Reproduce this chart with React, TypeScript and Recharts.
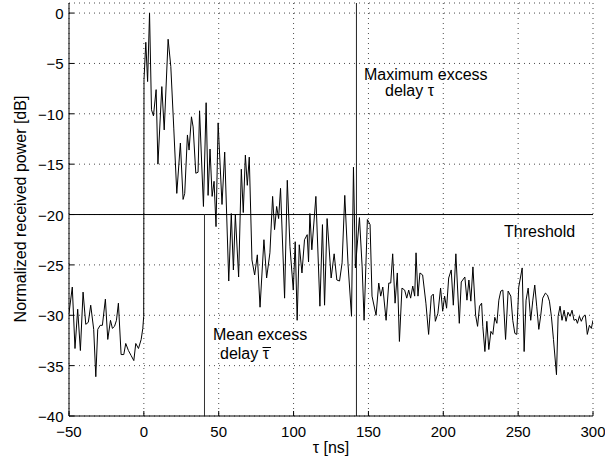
import React from 'react';
import { LineChart, Line, XAxis, YAxis, CartesianGrid, ReferenceLine } from 'recharts';

const delays = [
  -50, -47.8, -46, -44.2, -42.4, -40.6, -38.8, -37.1, -35.5, -33.5, -32.1, -30.8, -29.2, -27.7, -25.7, -24.1,
  -22.3, -21, -19.6, -18.3, -17, -15.2, -13.4, -12.1, -10.3, -8.5, -6.7, -5.4, -3.6, -1.8, -0.7, -0.1,
  0.1, 1.3, 2.5, 3.8, 5.1, 6.4, 8.2, 9.4, 12, 13.6, 16.2, 18, 20, 22, 24.4, 26.2, 27.3, 29.1, 30.2, 31.8,
  32.9, 34.7, 36.2, 37.2,
  39.8, 41.6, 42.9, 44.2, 45.6, 46.9, 48.2, 49.6, 52.2, 54, 56.7, 58.4, 59.8, 61.1, 63.3, 65.1, 66.4, 67.8,
  69.1, 70.4, 72.2, 74, 75.8, 77.6, 80.2, 82, 84.2, 86, 87.3, 88.7, 90, 91.3, 94, 95.8, 97.6, 99.8, 101.1,
  102.4, 103.8, 105.6, 107.3, 109.1, 110, 110.9, 112.2, 114.9, 117.6, 119.3, 120.7, 122.4,
  125.1, 127.1, 128.9, 130.7, 132.4, 134.2, 136.4, 138.7, 140, 141.3, 144, 145.8, 147.1, 149.3, 151.1,
  152.4, 155.1, 156.9, 158.2, 159.6, 161.8, 163.6, 164.9, 166.2, 167.8, 169.3, 170.7, 172.4, 174.2, 175.6,
  176.9, 178.2, 179.6, 180.9, 181.8, 183.1, 184.4, 186.2, 188.4, 190.2, 192, 193.3, 194.7, 196.4, 198.2,
  199.6, 200.9, 202.2, 203.6, 205.3, 206.7, 208.4, 210.7, 212,
  214.4, 215.8, 217.1, 218.4, 219.8, 221.6, 222.9, 224.2, 225.6, 226.4, 227.8, 229.1, 230.4, 231.8, 233.1,
  234.4, 235.8, 237.1, 238.4, 239.8, 241.6, 243.3, 245.1, 246.4, 247.8, 249.1, 250.4, 252.7, 254, 255.3,
  256.7, 258.4, 259.8, 261.1, 262.4, 263.8, 265.1, 266.4, 268.2, 269.6, 270.9, 272.2, 273.6, 275.6, 276.7,
  278, 279.3, 280.7, 282, 283.3, 284.7, 286, 287.3, 288.7, 289.6, 290.9, 292.2, 293.6, 294.9, 296.2, 297.6,
  298.9, 300,
];

const powers = [
  -29.8, -27.2, -33.3, -29.4, -33.5, -27.7, -30.9, -30.7, -29.0, -31.4, -36.1, -31.4, -31.0, -31.0, -28.4, -32.4,
  -30.5, -31.3, -31.1, -30.5, -28.8, -33.9, -33.9, -32.8, -33.5, -34.0, -34.5, -32.8, -33.3, -32.4, -31.3, -30.1,
  -6.6, -2.9, -6.8, 0.0, -9.6, -10.2, -7.6, -15.0, -7.3, -11.6, -2.6, -5.3, -11.5, -17.9, -12.9, -18.5, -17.9, -12.1, -13.6, -10.3,
  -11.3, -15.9, -15.8, -9.7,
  -19.2, -8.9, -18.1, -13.5, -18.2, -16.7, -21.2, -10.9, -19.0, -13.8, -26.6, -19.9, -25.5, -20.0, -26.2, -15.5, -19.8, -14.1,
  -17.1, -14.3, -24.5, -26.0, -24.0, -29.2, -22.5, -26.3, -23.8, -18.2, -21.5, -19.2, -20.4, -17.4, -28.3, -16.6, -23.2, -27.5, -22.7,
  -30.5, -23.0, -25.8, -22.5, -22.0, -24.7, -19.9, -23.5, -18.2, -29.1, -21.0, -29.0, -20.4,
  -26.3, -23.9, -26.5, -26.6, -24.8, -18.1, -25.0, -30.1, -15.3, -25.3, -20.3, -25.2, -30.5, -20.5, -21.0,
  -28.1, -30.0, -26.8, -28.1, -27.2, -30.5, -26.8, -26.8, -23.9, -28.8, -25.8, -32.6, -27.3, -27.5, -28.3,
  -27.5, -28.3, -27.1, -28.1, -23.8, -28.1, -25.8, -26.0, -28.8, -31.9, -28.1, -27.9, -30.6, -29.8, -27.3,
  -29.6, -28.1, -29.3, -26.3, -25.5, -29.0, -23.9, -30.8, -26.7,
  -26.2, -28.5, -26.5, -28.6, -25.2, -30.0, -31.1, -29.1, -28.8, -31.1, -33.6, -30.6, -33.4, -31.6, -31.9,
  -30.2, -30.8, -28.5, -27.6, -27.5, -32.4, -27.6, -28.1, -30.5, -31.8, -31.9, -27.2, -25.3, -33.6, -28.5,
  -27.3, -30.5, -28.5, -27.0, -29.1, -31.4, -30.0, -28.3, -27.8, -28.0, -28.6, -30.1, -32.4, -35.9, -30.1,
  -29.1, -30.5, -29.5, -30.6, -29.7, -30.1, -29.5, -30.5, -30.4, -30.8, -30.1, -30.6, -30.1, -30.0, -31.9, -31.0,
  -31.3, -30.5,
];

const xTicks = [-50, 0, 50, 100, 150, 200, 250, 300];
const yTicks = [-40, -35, -30, -25, -20, -15, -10, -5, 0];
const xDomain = [-50, 300];
const yDomain = [-40, 1];
const threshold = -20;
const meanExcessDelay = 40.5;
const maxExcessDelay = 142;

const data = delays.map((t, i) => ({ t, p: powers[i] }));

const FONT = '"Liberation Sans", Arial, Helvetica, sans-serif';
const fmt = (v: number) => (v < 0 ? '\u2212' + Math.abs(v) : String(v));
const TICK_LEN = 5;

const LeftTick = (props: any) => {
  const { x, y, payload } = props;
  return (
    <g>
      <line x1={x} y1={y} x2={x + TICK_LEN} y2={y} stroke="#000" strokeWidth={1} />
      <text x={x - 5.5} y={y} dy={6} textAnchor="end" fontSize={15} fontFamily={FONT} fill="#000">
        {fmt(payload.value)}
      </text>
    </g>
  );
};

const BottomTick = (props: any) => {
  const { x, y, payload } = props;
  return (
    <g>
      <line x1={x} y1={y} x2={x} y2={y - TICK_LEN} stroke="#000" strokeWidth={1} />
      <text x={x} y={y + 21} textAnchor="middle" fontSize={15} fontFamily={FONT} fill="#000">
        {fmt(payload.value)}
      </text>
    </g>
  );
};

const RightTick = (props: any) => {
  const { x, y } = props;
  return <line x1={x} y1={y} x2={x - TICK_LEN} y2={y} stroke="#000" strokeWidth={1} />;
};

const TopTick = (props: any) => {
  const { x, y } = props;
  return <line x1={x} y1={y} x2={x} y2={y + TICK_LEN} stroke="#000" strokeWidth={1} />;
};

export default function App() {
  return (
    <div style={{ position: 'absolute', left: 0, top: 0, width: 605, height: 464, background: '#fff' }}>
      <LineChart width={605} height={464} data={data} margin={{ top: 3, right: 12, bottom: 0, left: 0 }}>
        <CartesianGrid stroke="#000" strokeDasharray="1 4" strokeOpacity={0.7} />
        <XAxis
          dataKey="t"
          type="number"
          domain={xDomain}
          ticks={xTicks}
          height={48}
          tickSize={0}
          tickMargin={0}
          axisLine={{ stroke: '#000' }}
          tickLine={false}
          tick={<BottomTick />}
          allowDataOverflow
        />
        <XAxis
          xAxisId="top"
          orientation="top"
          dataKey="t"
          type="number"
          domain={xDomain}
          ticks={xTicks}
          height={0}
          tickSize={0}
          tickMargin={0}
          axisLine={{ stroke: '#000' }}
          tickLine={false}
          tick={<TopTick />}
          allowDataOverflow
        />
        <YAxis
          type="number"
          domain={yDomain}
          ticks={yTicks}
          width={69}
          tickSize={0}
          tickMargin={0}
          axisLine={{ stroke: '#000' }}
          tickLine={false}
          tick={<LeftTick />}
          allowDataOverflow
        />
        <YAxis
          yAxisId="right"
          orientation="right"
          type="number"
          domain={yDomain}
          ticks={yTicks}
          width={0}
          tickSize={0}
          tickMargin={0}
          axisLine={{ stroke: '#000' }}
          tickLine={false}
          tick={<RightTick />}
          allowDataOverflow
        />
        <ReferenceLine y={threshold} stroke="#000" strokeWidth={1} />
        <ReferenceLine
          segment={[
            { x: meanExcessDelay, y: -40 },
            { x: meanExcessDelay, y: threshold },
          ]}
          stroke="#333"
          strokeWidth={1}
        />
        <ReferenceLine x={maxExcessDelay} stroke="#222" strokeWidth={1} />
        <Line
          type="linear"
          dataKey="p"
          stroke="#000"
          strokeWidth={1}
          dot={false}
          isAnimationActive={false}
        />
      </LineChart>
      <svg
        width={605}
        height={464}
        style={{ position: 'absolute', left: 0, top: 0, pointerEvents: 'none' }}
        fontFamily={FONT}
      >
        <text x={26} y={209} transform="rotate(-90 26 209)" textAnchor="middle" fontSize={16} fill="#000">
          Normalized received power [dB]
        </text>
        <text x={331} y={453} textAnchor="middle" fontSize={16} fill="#000">
          τ [ns]
        </text>
        <text x={364} y={79.5} fontSize={16} fill="#000">Maximum excess</text>
        <text x={385} y={96} fontSize={16} fill="#000">delay τ</text>
        <text x={504} y={236.5} fontSize={16} fill="#000">Threshold</text>
        <text x={213} y={339.5} fontSize={16} fill="#000">Mean excess</text>
        <text x={220} y={358.5} fontSize={16} fill="#000">delay τ</text>
        <line x1={262.5} y1={347.5} x2={271} y2={347.5} stroke="#000" strokeWidth={1} />
      </svg>
    </div>
  );
}
